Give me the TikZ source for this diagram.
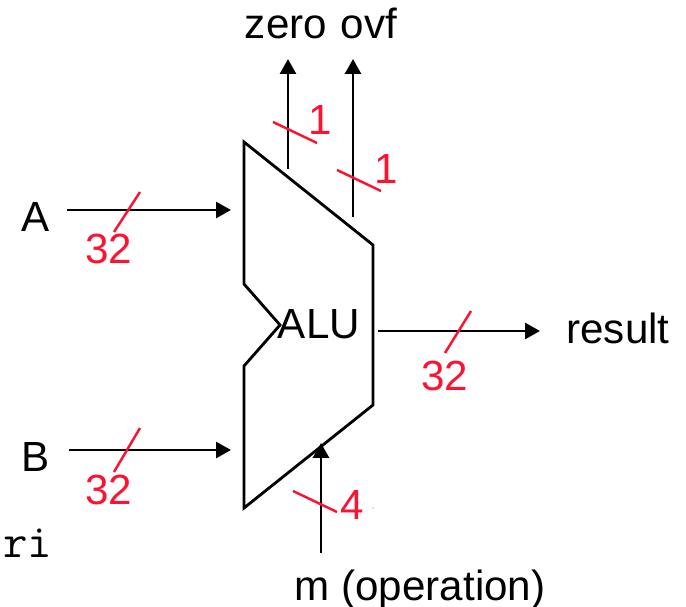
\documentclass[tikz,border=0pt]{standalone}
\usepackage{fontspec}
\setmainfont{Liberation Sans}
\usepackage{xcolor}
\usetikzlibrary{arrows.meta}
\definecolor{slashred}{RGB}{250,20,50}

\begin{document}
\begin{tikzpicture}[x=.02cm, y=-.02cm]
	\tikzset{
		wire/.style={line width=1.6pt, -{Triangle[length=.3cm,width=.32cm]}},
		slash/.style={line width=1.4pt, slashred},
		lbl/.style={anchor=base, inner sep=0pt, font=\fontsize{24}{24}\selectfont},
		redlbl/.style={lbl, text=slashred}
	}
	\useasboundingbox (0,0) rectangle (686,607);

	% ALU outline
	\coordinate (p1) at (244,142);
	\coordinate (p2) at (373,245);
	\coordinate (p3) at (373,405);
	\coordinate (p4) at (244,508);
	\coordinate (p5) at (244,366);
	\coordinate (p6) at (280,325);
	\coordinate (p7) at (244,284);
	\draw[line width=1.6pt, line join=miter] (p1) -- (p2) -- (p3) -- (p4) -- (p5) -- (p6) -- (p7) -- cycle;

	% wire ends
	\coordinate (a1) at (67,210);
	\coordinate (a2) at (231,210);
	\coordinate (b1) at (69,450);
	\coordinate (b2) at (231,450);
	\coordinate (r1) at (378,331);
	\coordinate (r2) at (540,331);
	\coordinate (m1) at (321,553);
	\coordinate (m2) at (321,443);
	\coordinate (z1) at (288,169);
	\coordinate (z2) at (288,59);
	\coordinate (o1) at (353,217);
	\coordinate (o2) at (353,59);

	\draw[wire] (a1) -- (a2);
	\draw[wire] (b1) -- (b2);
	\draw[wire] (r1) -- (r2);
	\draw[wire] (m1) -- (m2);
	\draw[wire] (z1) -- (z2);
	\draw[wire] (o1) -- (o2);

	% bus slashes
	\coordinate (sa1) at (114,232);
	\coordinate (sa2) at (140,192);
	\coordinate (sb1) at (114,472);
	\coordinate (sb2) at (140,428);
	\coordinate (sr1) at (445,353);
	\coordinate (sr2) at (471,311);
	\coordinate (sm1) at (293,491);
	\coordinate (sm2) at (337,512);
	\coordinate (sz1) at (273,122);
	\coordinate (sz2) at (317,143);
	\coordinate (so1) at (337,170);
	\coordinate (so2) at (381,191);

	\draw[slash] (sa1) -- (sa2);
	\draw[slash] (sb1) -- (sb2);
	\draw[slash] (sr1) -- (sr2);
	\draw[slash] (sm1) -- (sm2);
	\draw[slash] (sz1) -- (sz2);
	\draw[slash] (so1) -- (so2);

	% labels
	\node[lbl] (la) at (36,232) {A};
	\node[lbl] (lb) at (36,472) {B};
	\node[lbl] (lalu) at (319,339) {ALU};
	\node[lbl] (lres) at (618,344) {result};
	\node[lbl] (lzero) at (286,39) {zero};
	\node[lbl] (lovf) at (369,39) {ovf};
	\node[lbl] (lm) at (420,600) {m (operation)};
	\node[lbl, font=\ttfamily\fontsize{27}{27}\selectfont] (lri) at (28,557) {ri};

	\node[redlbl] (na) at (109,264) {32};
	\node[redlbl] (nb) at (109,504) {32};
	\node[redlbl] (nr) at (445,391) {32};
	\node[redlbl] (nm) at (352,520) {4};
	\node[redlbl] (nz) at (320,135) {1};
	\node[redlbl] (no) at (386,184) {1};

	% stray dot
	\fill[black!50] (373,508) circle (.6);
\end{tikzpicture}
\end{document}
